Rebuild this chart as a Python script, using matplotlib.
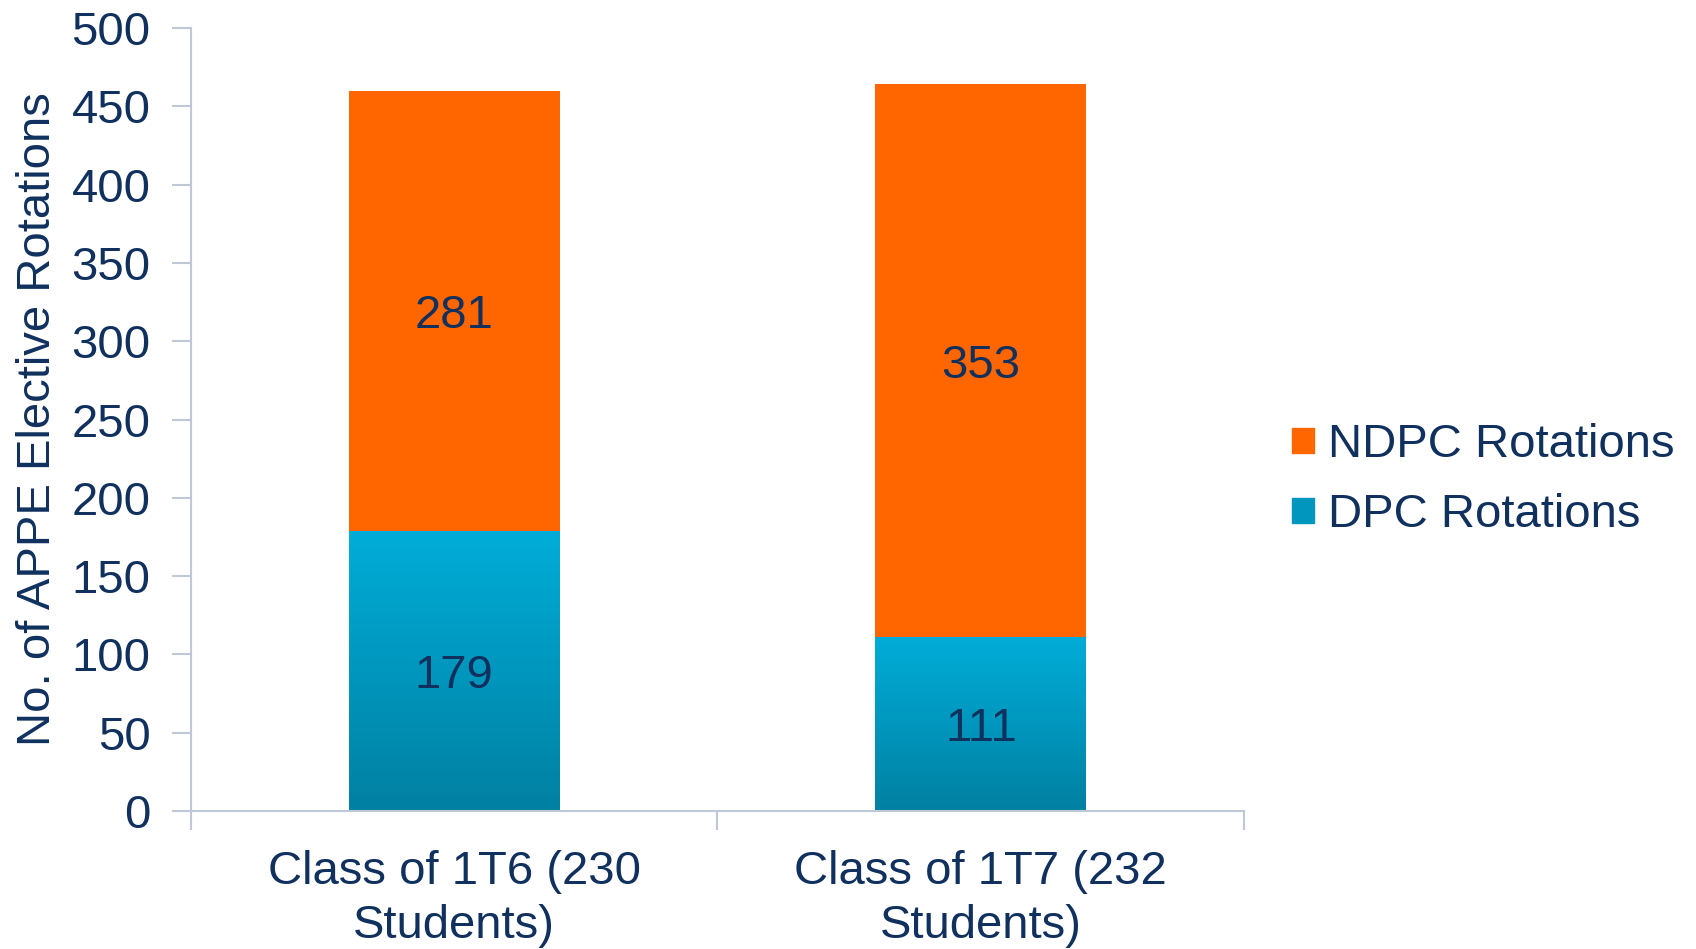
import numpy as np
import matplotlib.pyplot as plt
from matplotlib.colors import LinearSegmentedColormap
from matplotlib.patches import Patch

# data
categories = ['Class of 1T6 (230\nStudents)', 'Class of 1T7 (232\nStudents)']
dpc = [179, 111]
ndpc = [281, 353]

navy = '#10305E'
axis_col = '#BFC8D6'
orange = '#FF6600'

plt.rcParams['font.family'] = ['Liberation Sans', 'DejaVu Sans']

fig = plt.figure(figsize=(16.96, 9.49), dpi=100)
ax = fig.add_axes([0.1126, 0.1454, 0.6209, 0.8251])

x = np.arange(len(categories))
w = 0.4

# DPC bars with a vertical gradient
grad = LinearSegmentedColormap.from_list('dpc', ['#0080A2', '#00ADD8'])
dpc_bars = ax.bar(x, dpc, w, color='none', edgecolor='none', zorder=2)
for b in dpc_bars:
    x0, y0 = b.get_x(), b.get_y()
    img = ax.imshow(np.linspace(0, 1, 256).reshape(-1, 1), cmap=grad, origin='lower',
                    extent=[x0, x0 + b.get_width(), y0, y0 + b.get_height()],
                    aspect='auto', zorder=2)
    img.set_clip_path(b)

ax.bar(x, ndpc, w, bottom=dpc, color=orange, zorder=2)

# value labels
for i in range(len(x)):
    ax.text(x[i], dpc[i] / 2, str(dpc[i]), ha='center', va='center_baseline', fontsize=34, color=navy, zorder=3)
    ax.text(x[i], dpc[i] + ndpc[i] / 2, str(ndpc[i]), ha='center', va='center_baseline', fontsize=34, color=navy, zorder=3)

ax.set_xlim(-0.5, 1.5)
ax.set_ylim(0, 500)
ax.set_yticks(range(0, 501, 50))
ax.set_xticks([-0.5, 0.5, 1.5])
ax.set_xticklabels([])
ax.set_xticks(x, minor=True)
ax.set_xticklabels(categories, minor=True, fontsize=34, color=navy, linespacing=1.3)
ax.tick_params(axis='x', which='minor', length=0, pad=28)
ax.tick_params(axis='x', which='major', length=14, width=1.5, color=axis_col)
ax.tick_params(axis='y', length=14, width=1.5, color=axis_col, labelsize=34, labelcolor=navy, pad=15)

for s in ['top', 'right']:
    ax.spines[s].set_visible(False)
for s in ['left', 'bottom']:
    ax.spines[s].set_color(axis_col)
    ax.spines[s].set_linewidth(1.5)

ax.set_ylabel('No. of APPE Elective Rotations', fontsize=34, color=navy, labelpad=8)

handles = [Patch(color=orange), Patch(color='#0096BD')]
fig.legend(handles, ['NDPC Rotations', 'DPC Rotations'], loc='center left',
           bbox_to_anchor=(0.737, 0.494), frameon=False, fontsize=34, labelcolor=navy,
           handlelength=0.45, handleheight=0.45, handletextpad=0.3, labelspacing=0.55)

fig.savefig('out.png', dpi=100)
